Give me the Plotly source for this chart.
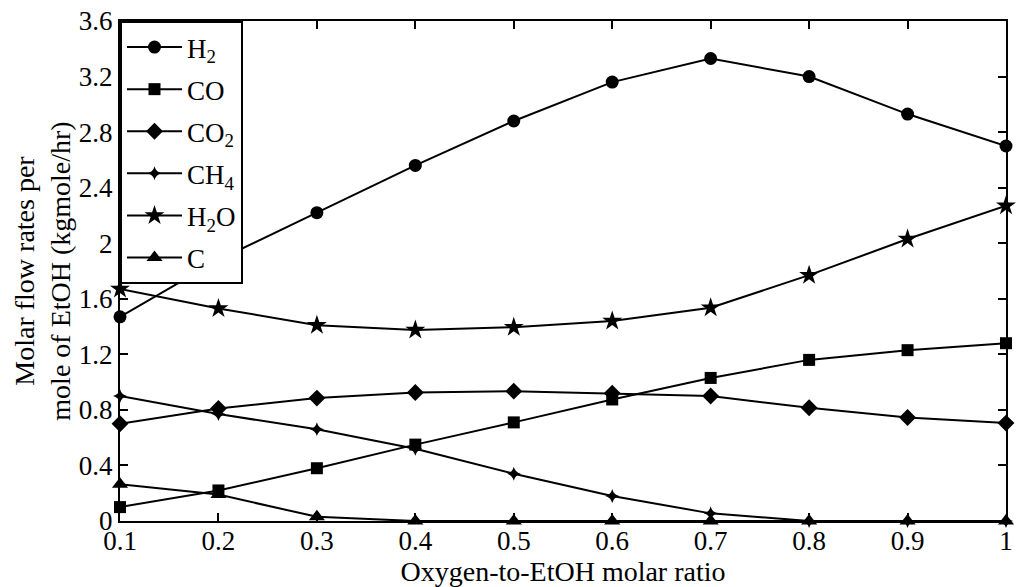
import plotly.graph_objects as go

# Oxygen-to-EtOH molar ratio
ratio = [0.1, 0.2, 0.3, 0.4, 0.5, 0.6, 0.7, 0.8, 0.9, 1.0]

# Molar flow rates per mole of EtOH (kgmole/hr)
h2 = [1.47, 1.88, 2.22, 2.56, 2.88, 3.16, 3.33, 3.20, 2.93, 2.70]
co = [0.10, 0.22, 0.38, 0.55, 0.71, 0.875, 1.03, 1.16, 1.23, 1.28]
co2 = [0.70, 0.81, 0.885, 0.925, 0.935, 0.92, 0.90, 0.815, 0.745, 0.705]
ch4 = [0.90, 0.77, 0.66, 0.52, 0.34, 0.18, 0.055, 0.0, 0.0, 0.0]
h2o = [1.67, 1.53, 1.41, 1.375, 1.395, 1.44, 1.535, 1.77, 2.03, 2.27]
c = [0.265, 0.19, 0.03, 0.0, 0.0, 0.0, 0.0, 0.0, 0.0, 0.0]

series_names = ["H<sub>2</sub>", "CO", "CO<sub>2</sub>", "CH<sub>4</sub>", "H<sub>2</sub>O", "C"]
series_values = [h2, co, co2, ch4, h2o, c]
series_symbols = ["circle", "square", "diamond", "star-diamond", "star", "triangle-up"]
series_sizes = [13, 12, 13, 10, 15, 14]

x_ticks = [0.1, 0.2, 0.3, 0.4, 0.5, 0.6, 0.7, 0.8, 0.9, 1.0]
x_ticktext = ["0.1", "0.2", "0.3", "0.4", "0.5", "0.6", "0.7", "0.8", "0.9", "1"]
y_ticks = [0, 0.4, 0.8, 1.2, 1.6, 2.0, 2.4, 2.8, 3.2, 3.6]
y_ticktext = ["0", "0.4", "0.8", "1.2", "1.6", "2", "2.4", "2.8", "3.2", "3.6"]

FONT = "Liberation Serif, Times New Roman, serif"

fig = go.Figure()
for i, (name, vals, sym, size) in enumerate(zip(series_names, series_values, series_symbols, series_sizes)):
    fig.add_trace(go.Scatter(
        x=ratio, y=vals, name=name, mode="lines+markers",
        legendgroup=f"g{i}",
        line=dict(color="black", width=2),
        marker=dict(symbol=sym, size=size, color="black", line=dict(width=0)),
        cliponaxis=False,
    ))

axis_common = dict(
    showline=True, linecolor="black", linewidth=2, mirror="ticks",
    ticks="inside", ticklen=8, tickwidth=1.5, tickcolor="black",
    showgrid=False, zeroline=False,
    ticklabeloverflow="allow",
    tickfont=dict(family=FONT, size=27, color="black"),
)

fig.update_layout(
    width=1017, height=587,
    margin=dict(l=120, r=4, t=21, b=66),
    paper_bgcolor="white", plot_bgcolor="white",
    font=dict(family=FONT, size=27, color="black"),
    xaxis=dict(
        range=[0.1, 1.0], tickvals=x_ticks, ticktext=x_ticktext,
        ticklabelstandoff=-5,
        title=dict(text="Oxygen-to-EtOH molar ratio", font=dict(family=FONT, size=28), standoff=0),
        **axis_common,
    ),
    yaxis=dict(
        range=[0, 3.6], tickvals=y_ticks, ticktext=y_ticktext,
        title=dict(text="Molar flow rates per<br>mole of EtOH (kgmole/hr)", font=dict(family=FONT, size=28), standoff=0),
        **axis_common,
    ),
    legend=dict(
        x=0, y=1, xanchor="left", yanchor="top",
        bgcolor="white", bordercolor="black", borderwidth=2,
        font=dict(family=FONT, size=27, color="black"),
        itemwidth=55,
        tracegroupgap=4,
    ),
    showlegend=True,
)

fig.write_html("out.html")
